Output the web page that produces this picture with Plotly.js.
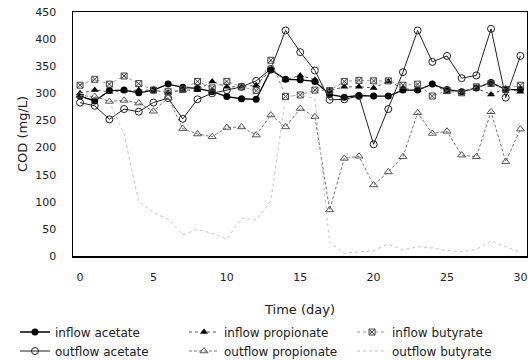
<!DOCTYPE html>
<html>
<head>
<meta charset="utf-8">
<script src="https://cdn.plot.ly/plotly-3.0.1.min.js"></script>
<style>html,body{margin:0;padding:0;background:#fff}#chart{width:528px;height:360px}</style>
</head>
<body>
<div id="chart"></div>
<script>
const days = [0,1,2,3,4,5,6,7,8,9,10,11,12,13,14,15,16,17,18,19,20,21,22,23,24,25,26,27,28,29,30];
const inflowAcetate     = [295,286,305,306,301,306,317,311,309,303,294,290,289,343,326,325,322,298,293,296,295,295,306,306,317,307,303,310,320,307,307];
const outflowAcetate    = [283,277,252,271,266,283,291,253,289,300,306,312,323,345,416,376,342,288,289,295,206,271,339,416,358,369,328,333,419,292,369];
const inflowPropionate  = [300,306,303,305,306,306,301,306,306,322,312,312,315,343,325,333,325,305,312,312,310,322,309,306,317,303,303,309,298,309,303];
const outflowPropionate = [296,294,285,287,282,267,292,235,225,220,237,238,223,260,238,272,257,85,180,184,131,155,183,264,226,230,186,183,266,174,234];
const inflowButyrate    = [315,326,317,332,318,306,303,307,322,310,322,312,305,361,294,297,306,305,322,324,323,323,315,317,295,305,301,312,318,307,315];
const outflowButyrate   = [300,298,285,225,100,80,68,39,49,42,31,70,66,102,294,297,290,25,5,8,10,22,11,17,15,10,8,12,28,17,7];

const F = 'DejaVu Sans, Arial, sans-serif';
const traces = [
  {name:'inflow acetate', x:days, y:inflowAcetate, mode:'lines+markers', legend:'legend',
   line:{color:'#000', width:1.3}, marker:{symbol:'circle', size:7, color:'#000'}},
  {name:'outflow acetate', x:days, y:outflowAcetate, mode:'lines+markers', legend:'legend',
   line:{color:'#222', width:1}, marker:{symbol:'circle-open', size:7, color:'#222', line:{width:1}}},
  {name:'inflow propionate', x:days, y:inflowPropionate, mode:'lines+markers', legend:'legend2',
   line:{color:'#555', width:1, dash:'dot'}, marker:{symbol:'triangle-up', size:7, color:'#000'}},
  {name:'outflow propionate', x:days, y:outflowPropionate, mode:'lines+markers', legend:'legend2',
   line:{color:'#777', width:1, dash:'3px,2px'}, marker:{symbol:'triangle-up-open', size:7, color:'#555', line:{width:1}}},
  {name:'inflow butyrate', x:days, y:inflowButyrate, mode:'lines+markers', legend:'legend3',
   line:{color:'#999', width:1, dash:'dot'}, marker:{symbol:'square-x-open', size:6, color:'#444', line:{width:1}}},
  {name:'outflow butyrate', x:days, y:outflowButyrate, mode:'lines', legend:'legend3',
   line:{color:'#c4c4c4', width:1, dash:'dot'}}
];

const legBase = {xref:'container', yref:'container', xanchor:'left', yanchor:'top', y:0.118,
  bgcolor:'rgba(0,0,0,0)', font:{family:F, size:12, color:'#222'}, orientation:'v', tracegroupgap:0};

const layout = {
  width:528, height:360,
  margin:{l:73, r:1, t:12, b:104, autoexpand:false},
  paper_bgcolor:'#fff', plot_bgcolor:'#fff',
  font:{family:F, size:11, color:'#222'},
  showlegend:true,
  xaxis:{range:[-0.48,30.45], tickvals:[0,5,10,15,20,25,30], ticks:'', showgrid:false, zeroline:false,
    showline:true, mirror:true, linecolor:'#000', linewidth:1.5, ticklabelstandoff:10,
    tickfont:{family:F, size:11, color:'#222'},
    title:{text:'Time (day)', font:{family:F, size:13, color:'#222'}, standoff:22}},
  yaxis:{range:[0,450], dtick:50, ticks:'', showgrid:false, zeroline:false,
    showline:true, mirror:true, linecolor:'#000', linewidth:1.5, ticklabelstandoff:13,
    tickfont:{family:F, size:11, color:'#222'}},
  annotations:[{text:'COD (mg/L)', xref:'paper', yref:'paper', x:(22-73)/454, y:0.5,
    xanchor:'center', yanchor:'middle', textangle:-90, showarrow:false,
    font:{family:F, size:13, color:'#222'}}],
  legend:Object.assign({}, legBase, {x:15/528}),
  legend2:Object.assign({}, legBase, {x:184/528}),
  legend3:Object.assign({}, legBase, {x:352/528})
};

Plotly.newPlot('chart', traces, layout, {staticPlot:true, displayModeBar:false});
</script>
</body>
</html>
